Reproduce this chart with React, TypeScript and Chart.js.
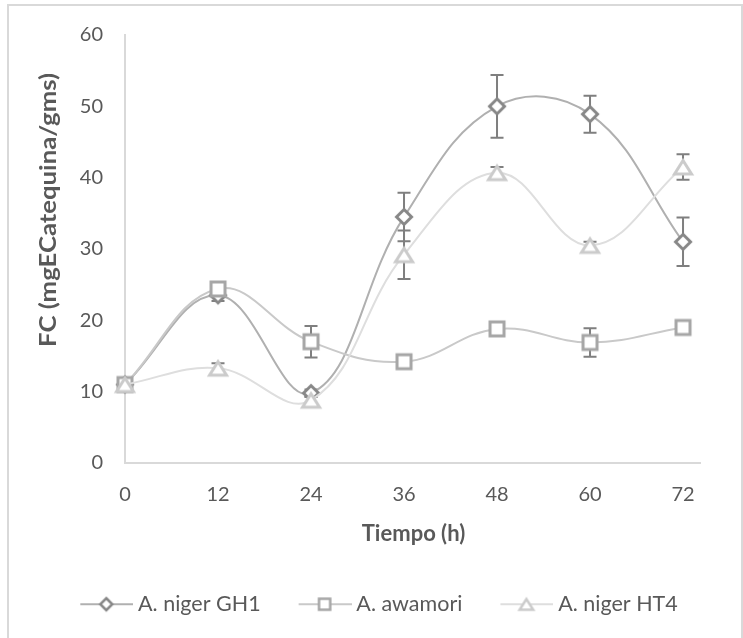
import React, { useEffect, useRef } from "react";
import { Chart, registerables } from "chart.js";

Chart.register(...registerables);

// ---- data ----
const times = [0, 12, 24, 36, 48, 60, 72];
const xTicks = [0, 12, 24, 36, 48, 60, 72];
const yTicks = [0, 10, 20, 30, 40, 50, 60];
const seriesNames = ["A. niger GH1", "A. awamori", "A. niger HT4"];
const gh1Values = [11.0, 23.5, 9.8, 34.5, 50.0, 48.9, 31.0];
const gh1Errors = [0.3, 0.8, 0.5, 3.4, 4.4, 2.6, 3.4];
const awamoriValues = [11.0, 24.4, 17.0, 14.2, 18.8, 16.9, 19.0];
const awamoriErrors = [0.3, 0.5, 2.2, 0.5, 0.6, 2.0, 0.5];
const ht4Values = [11.0, 13.3, 8.8, 29.2, 40.7, 30.5, 41.5];
const ht4Errors = [0.3, 0.7, 0.5, 3.4, 0.8, 0.5, 1.8];
const xTitle = "Tiempo (h)";
const yTitle = "FC (mgECatequina/gms)";

// ---- styles ----
const FONT = "Lato";
const TEXT = "#595959";
const AXIS = "#d9d9d9";
const ERR = "#7f7f7f";
const shapes = ["diamond", "square", "triangle"];
const lineColors = ["#b0b0b0", "#c9c9c9", "#dedede"];
const markerColors = ["#878787", "#a6a6a6", "#cbcbcb"];

function drawShape(ctx: CanvasRenderingContext2D, shape: string, cx: number, cy: number, k: number, lw: number, color: string) {
  ctx.save();
  ctx.beginPath();
  if (shape === "diamond") {
    const h = 7.5 * k;
    ctx.moveTo(cx, cy - h);
    ctx.lineTo(cx + h, cy);
    ctx.lineTo(cx, cy + h);
    ctx.lineTo(cx - h, cy);
    ctx.closePath();
  } else if (shape === "square") {
    const h = 7 * k;
    ctx.rect(cx - h, cy - h, 2 * h, 2 * h);
  } else {
    const t = 6.5 * k, b = 7 * k, w = 8.5 * k;
    ctx.moveTo(cx, cy - t);
    ctx.lineTo(cx + w, cy + b);
    ctx.lineTo(cx - w, cy + b);
    ctx.closePath();
  }
  ctx.fillStyle = "#ffffff";
  ctx.fill();
  ctx.lineJoin = "miter";
  ctx.lineWidth = lw;
  ctx.strokeStyle = color;
  ctx.stroke();
  ctx.restore();
}

function makeMarker(i: number) {
  const c = document.createElement("canvas");
  c.width = 26;
  c.height = 26;
  const ctx = c.getContext("2d")!;
  drawShape(ctx, shapes[i], 13, 13, 1, 3, markerColors[i]);
  return c;
}

const LEG_BOX = 75;
function makeLegendSymbol(i: number) {
  const c = document.createElement("canvas");
  c.width = 87;
  c.height = 22;
  const ctx = c.getContext("2d")!;
  const x0 = c.width - 53;
  ctx.strokeStyle = lineColors[i];
  ctx.lineWidth = 2;
  ctx.beginPath();
  ctx.moveTo(x0, 11);
  ctx.lineTo(c.width, 11);
  ctx.stroke();
  drawShape(ctx, shapes[i], x0 + 26, 11, 0.8, 2.5, markerColors[i]);
  return c;
}

const errorBarPlugin = {
  id: "errorBars",
  beforeDatasetsDraw(chart: any) {
    const ctx = chart.ctx;
    const yScale = chart.scales.y;
    chart.data.datasets.forEach((ds: any, i: number) => {
      const meta = chart.getDatasetMeta(i);
      const errs = ds.errors as number[];
      meta.data.forEach((pt: any, j: number) => {
        const v = ds.data[j].y;
        const e = errs[j];
        const yt = yScale.getPixelForValue(v + e);
        const yb = yScale.getPixelForValue(v - e);
        const x = pt.x;
        ctx.save();
        ctx.strokeStyle = ERR;
        ctx.lineWidth = 2;
        ctx.beginPath();
        ctx.moveTo(x, yt);
        ctx.lineTo(x, yb);
        ctx.moveTo(x - 6.5, yt);
        ctx.lineTo(x + 6.5, yt);
        ctx.moveTo(x - 6.5, yb);
        ctx.lineTo(x + 6.5, yb);
        ctx.stroke();
        ctx.restore();
      });
    });
  },
};

const axisTitlePlugin = {
  id: "axisTitles",
  afterDraw(chart: any) {
    const { ctx, chartArea } = chart;
    ctx.save();
    ctx.fillStyle = TEXT;
    ctx.textAlign = "center";
    ctx.textBaseline = "middle";
    ctx.font = `bold 22px ${FONT}`;
    ctx.fillText(xTitle, (chartArea.left + chartArea.right) / 2 + 1, chartArea.bottom + 71);
    ctx.translate(chartArea.left - 76, chartArea.top + 175);
    ctx.rotate(-Math.PI / 2);
    const w = ctx.measureText(yTitle).width;
    ctx.scale(274 / w, 1);
    ctx.fillText(yTitle, 0, 0);
    ctx.restore();
  },
};

export default function App() {
  const ref = useRef<HTMLCanvasElement | null>(null);

  useEffect(() => {
    if (!ref.current) return;
    const valueSets = [gh1Values, awamoriValues, ht4Values];
    const errorSets = [gh1Errors, awamoriErrors, ht4Errors];
    const legendSymbols = [0, 1, 2].map(makeLegendSymbol);
    const datasets = seriesNames.map((name, i) => ({
      label: name,
      data: times.map((t, j) => ({ x: t, y: valueSets[i][j] })),
      errors: errorSets[i],
      borderColor: lineColors[i],
      backgroundColor: "#ffffff",
      borderWidth: 2,
      tension: 0.4,
      fill: false,
      pointStyle: makeMarker(i),
      pointRadius: 5,
      clip: false,
      order: 2 - i,
    }));

    const chart = new Chart(ref.current, {
      type: "line",
      data: { datasets } as any,
      options: {
        responsive: false,
        animation: false,
        events: [],
        layout: { padding: { left: 30, right: 43, top: 35, bottom: 13 } },
        scales: {
          x: {
            type: "linear",
            min: 0,
            max: 74.19,
            afterBuildTicks: (s: any) => {
              s.ticks = xTicks.map((v) => ({ value: v }));
            },
            afterFit: (s: any) => {
              s.height = 120.5;
            },
            grid: { display: false, drawTicks: false },
            border: { display: true, color: AXIS, width: 2 },
            ticks: { color: TEXT, font: { family: FONT, size: 20 }, padding: 19.5, maxRotation: 0 },
          },
          y: {
            type: "linear",
            min: 0,
            max: 60,
            afterBuildTicks: (s: any) => {
              s.ticks = yTicks.map((v) => ({ value: v }));
            },
            afterFit: (s: any) => {
              s.width = 95;
            },
            grid: { display: false, drawTicks: false },
            border: { display: true, color: AXIS, width: 2 },
            ticks: { color: TEXT, font: { family: FONT, size: 20 }, padding: 22 },
          },
        },
        plugins: {
          tooltip: { enabled: false },
          legend: {
            position: "bottom",
            labels: {
              usePointStyle: true,
              pointStyleWidth: LEG_BOX,
              padding: 10,
              color: TEXT,
              font: { family: FONT, size: 21.5 },
              generateLabels: () =>
                seriesNames.map((name, i) => ({
                  text: name,
                  pointStyle: legendSymbols[i],
                  datasetIndex: i,
                  hidden: false,
                  fillStyle: "#ffffff",
                  strokeStyle: markerColors[i],
                  lineWidth: 0,
                  fontColor: TEXT,
                })),
              sort: (a: any, b: any) => a.datasetIndex - b.datasetIndex,
            },
          },
        },
      } as any,
      plugins: [errorBarPlugin, axisTitlePlugin],
    });
    return () => chart.destroy();
  }, []);

  return (
    <div style={{ position: "fixed", left: 0, top: 0, width: 743, height: 638, background: "#ffffff" }}>
      <div
        style={{
          position: "absolute",
          left: 7,
          top: 4,
          width: 736,
          height: 640,
          boxSizing: "border-box",
          border: `2px solid ${AXIS}`,
        }}
      />
      <canvas ref={ref} width={743} height={638} style={{ position: "absolute", left: 0, top: 0 }} />
    </div>
  );
}
